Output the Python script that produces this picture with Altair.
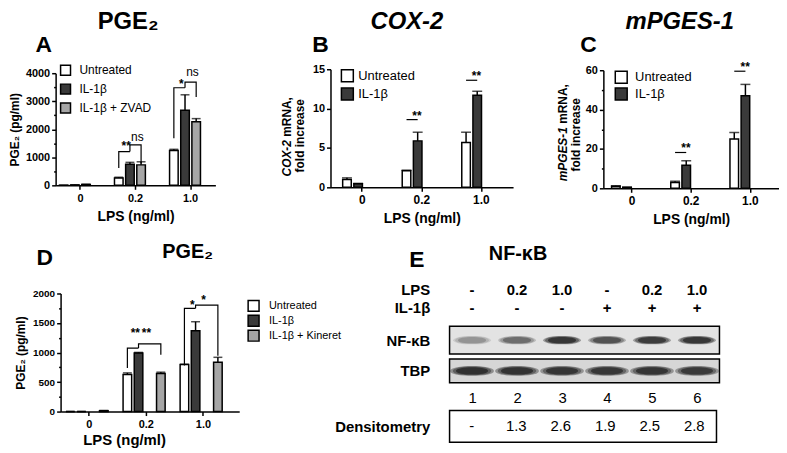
import altair as alt
import pandas as pd

FONT = "Liberation Sans"
DARK = "#3a3a3a"
LIGHT = "#a6a6a6"
WHITE = "#ffffff"

lps = ["0", "0.2", "1.0"]

# ---------------- Panel A : PGE2 with ZVAD ----------------
a_groups = ["Untreated", "IL-1β", "IL-1β + ZVAD"]
a_untreated = [5, 260, 1240]
a_untreated_sem = [0, 30, 45]
a_il1b = [15, 750, 2680]
a_il1b_sem = [5, 70, 550]
a_zvad = [30, 730, 2270]
a_zvad_sem = [5, 110, 110]
a_br_lps = ["0.2", "0.2", "1.0", "1.0"]
a_br_from = ["Untreated", "IL-1β", "Untreated", "IL-1β"]
a_br_to = ["IL-1β", "IL-1β + ZVAD", "IL-1β", "IL-1β + ZVAD"]
a_br_start = [614, 1204, 1676, 3481]
a_br_top = [1204, 1440, 3481, 3681]
a_br_end = [1204, 790, 3481, 3150]
a_br_label = ["**", "ns", "*", "ns"]
a_br_label_y = [1260, 1593, 3490, 3894]

# ---------------- Panel B : COX-2 mRNA ----------------
b_groups = ["Untreated", "IL-1β"]
b_untreated = [1.0, 2.1, 5.7]
b_untreated_sem = [0.2, 0.08, 1.3]
b_il1b = [0.45, 5.9, 11.7]
b_il1b_sem = [0.05, 1.1, 0.5]
b_br_lps = ["0.2", "1.0"]
b_br_from = ["Untreated", "Untreated"]
b_br_to = ["IL-1β", "IL-1β"]
b_br_y = [8.6, 13.6]
b_br_label = ["**", "**"]

# ---------------- Panel C : mPGES-1 mRNA ----------------
c_groups = ["Untreated", "IL-1β"]
c_untreated = [1.0, 3.0, 25.0]
c_untreated_sem = [0.3, 0.6, 3.3]
c_il1b = [0.5, 11.7, 47.0]
c_il1b_sem = [0.1, 2.3, 5.8]
c_br_lps = ["0.2", "1.0"]
c_br_from = ["Untreated", "Untreated"]
c_br_to = ["IL-1β", "IL-1β"]
c_br_y = [18.2, 59.5]
c_br_label = ["**", "**"]

# ---------------- Panel D : PGE2 with Kineret ----------------
d_groups = ["Untreated", "IL-1β", "IL-1β + Kineret"]
d_untreated = [0, 627, 796]
d_untreated_sem = [0, 28, 5]
d_il1b = [0, 992, 1367]
d_il1b_sem = [0, 10, 155]
d_kineret = [15, 645, 835]
d_kineret_sem = [3, 22, 84]
d_br_lps = ["0.2", "0.2", "1.0", "1.0"]
d_br_from = ["Untreated", "IL-1β", "Untreated", "IL-1β"]
d_br_to = ["IL-1β", "IL-1β + Kineret", "IL-1β", "IL-1β + Kineret"]
d_br_start = [740, 1076, 779, 1748]
d_br_top = [1076, 1148, 1748, 1804]
d_br_end = [1076, 964, 1748, 947]
d_br_label = ["**", "**", "*", "*"]
d_br_label_y = [1260, 1260, 1731, 1815]

# ---------------- Panel E : NF-kB western blot ----------------
lanes = ["1", "2", "3", "4", "5", "6"]
e_lps = ["-", "0.2", "1.0", "-", "0.2", "1.0"]
e_il1b = ["-", "-", "-", "+", "+", "+"]
nfkb_intensity = [0.3, 0.5, 0.92, 0.66, 0.85, 0.9]
tbp_intensity = [0.97, 0.93, 0.9, 0.88, 0.9, 0.86]
densitometry = ["-", "1.3", "2.6", "1.9", "2.5", "2.8"]


def bars_df(groups, means, sems):
    rows = []
    for g, m, s in zip(groups, means, sems):
        for l, v, e in zip(lps, m, s):
            rows.append({"lps": l, "group": g, "value": v, "top": v + e})
    return pd.DataFrame(rows)


def bracket_df(b_lps, b_from, b_to, b_start, b_top, b_end):
    rows = []
    for i, (l, f, t, s, tp, e) in enumerate(zip(b_lps, b_from, b_to, b_start, b_top, b_end)):
        rows += [
            {"id": i, "k": 0, "lps": l, "group": f, "y": s},
            {"id": i, "k": 1, "lps": l, "group": f, "y": tp},
            {"id": i, "k": 2, "lps": l, "group": t, "y": tp},
            {"id": i, "k": 3, "lps": l, "group": t, "y": e},
        ]
    return pd.DataFrame(rows)


def one(text):
    return pd.DataFrame({"t": [text]})


def label_mark(text, x, y, size, style="normal", align="center", angle=0, baseline="middle"):
    kw = dict(fontSize=size, fontWeight="bold", fontStyle=style, baseline=baseline, align=align, color="black")
    if angle:
        kw["angle"] = angle
    return alt.Chart(one(text)).mark_text(**kw).encode(text="t:N", x=alt.value(x), y=alt.value(y))


def bar_panel(p):
    groups = p["groups"]
    bars = bars_df(groups, p["means"], p["sems"])
    br = bracket_df(*p["brackets"])
    lab = pd.DataFrame({"lps": p["lab_lps"], "group": p["lab_from"], "y": p["lab_y"], "t": p["lab_text"]})
    lab_star = lab[lab["t"] != "ns"]
    lab_ns = lab[lab["t"] == "ns"]

    xkw = dict(domain=lps, paddingInner=p["pi"], paddingOuter=p["po"], align=p.get("align", 0.5))
    if "xrange" in p:
        xkw["range"] = p["xrange"]
    xs = alt.Scale(**xkw)
    os_ = alt.Scale(domain=groups, paddingInner=p["opi"], paddingOuter=p["opo"])
    ys = alt.Scale(domain=[0, p["ymax"]], nice=False, zero=True, range=p["yrange"])

    x_axis = alt.Axis(title="LPS (ng/ml)", labelAngle=0, labelFontSize=p["xlab"], titleFontSize=p["xtitle"],
                      titlePadding=p["xtp"], labelPadding=3, tickSize=4, **p.get("xextra", {}))
    y_axis = alt.Axis(title=p["ytitle"], values=p["yvals"], format="d", labelExpr=p["lexpr"],
                      tickSize=p["tsize"], labelFontSize=p["ylab"], titleFontSize=12, titlePadding=p["ytp"],
                      titleLineHeight=13, labelPadding=2, **p.get("yextra", {}))

    def X():
        return alt.X("lps:N", scale=xs, axis=x_axis)

    def Y(field):
        return alt.Y(field, scale=ys, axis=y_axis)

    off = alt.XOffset("group:N", scale=os_)

    bar = alt.Chart(bars).mark_bar(stroke="black", strokeWidth=1.5).encode(
        x=X(), xOffset=off, y=Y("value:Q"),
        fill=alt.Fill("group:N", scale=alt.Scale(domain=groups, range=p["colors"]),
                      legend=alt.Legend(orient="none", legendX=p["lx"], legendY=p["ly"], title=None,
                                        symbolType="square", symbolSize=p["ss"], symbolStrokeColor="black",
                                        symbolStrokeWidth=1.5, symbolOpacity=1, labelFontSize=p["lfs"],
                                        labelFont=FONT, labelColor="black", rowPadding=p["rp"],
                                        labelOffset=p["lo"])),
    )
    err = alt.Chart(bars).mark_rule(color="black", strokeWidth=1.5).encode(
        x=X(), xOffset=off, y=Y("value:Q"), y2="top:Q")
    cap = alt.Chart(bars).mark_tick(color="black", thickness=1.5, size=p["cap"]).encode(
        x=X(), xOffset=off, y=Y("top:Q"))
    brk = alt.Chart(br).mark_line(color="black", strokeWidth=1.2).encode(
        x=X(), xOffset=off, y=Y("y:Q"), detail="id:N", order="k:Q")
    stars = alt.Chart(lab_star).mark_text(fontSize=12, fontWeight="bold", baseline="alphabetic",
                                          dx=p["half"], color="black").encode(
        x=X(), xOffset=off, y=Y("y:Q"), text="t:N")
    layers = [bar, err, cap, brk, stars]
    if len(lab_ns):
        ns = alt.Chart(lab_ns).mark_text(fontSize=12, fontWeight="normal", baseline="alphabetic",
                                         dx=p["half"], color="black").encode(
            x=X(), xOffset=off, y=Y("y:Q"), text="t:N")
        layers.append(ns)
    layers.append(label_mark(p["head"], p["hx"], p["hy"], p["hfs"], style=p["hstyle"]))
    layers.append(label_mark(p["letter"], p["lx_"], p["ly_"], 23))
    # y-axis title with the italic gene name (two rotated lines)
    if "gene" in p:
        gx1, gx2, gbottom, gwidth, gcenter2 = p["gene_pos"]
        layers.append(label_mark(p["gene"], gx1, gbottom, 12, style="italic", align="left",
                                 angle=270, baseline="alphabetic"))
        layers.append(label_mark("mRNA,", gx1, gbottom - gwidth, 12, align="left",
                                 angle=270, baseline="alphabetic"))
        layers.append(label_mark("fold increase", gx2, gcenter2, 12, align="center",
                                 angle=270, baseline="alphabetic"))
    return alt.layer(*layers).properties(width=p["w"], height=p["h"])


A = bar_panel(dict(
    groups=a_groups, means=[a_untreated, a_il1b, a_zvad], sems=[a_untreated_sem, a_il1b_sem, a_zvad_sem],
    colors=[WHITE, DARK, LIGHT],
    brackets=(a_br_lps, a_br_from, a_br_to, a_br_start, a_br_top, a_br_end),
    lab_lps=a_br_lps, lab_from=a_br_from, lab_y=a_br_label_y, lab_text=a_br_label,
    pi=0.19, po=0.045, opi=0.23, opo=0.115, ymax=4000, yrange=[117, 4],
    yvals=list(range(0, 4001, 500)), lexpr="datum.value % 1000 === 0 ? datum.label : ''",
    tsize={"condition": {"test": "datum.value % 1000 === 0", "value": 4}, "value": 2},
    ytitle="PGE₂ (pg/ml)", ylab=11, ytp=4, xlab=11, xtitle=14, xtp=6,
    lx=4, ly=-5, ss=100, lfs=12, rp=3, lo=8, cap=9, half=7.5,
    head="PGE₂", hfs=24, hstyle="normal", hx=73, hy=-47.5, letter="A", lx_=-12, ly_=-24,
    w=161, h=117))

B = bar_panel(dict(
    groups=b_groups, means=[b_untreated, b_il1b], sems=[b_untreated_sem, b_il1b_sem],
    colors=[WHITE, DARK],
    brackets=(b_br_lps, b_br_from, b_br_to, b_br_y, b_br_y, b_br_y),
    lab_lps=b_br_lps, lab_from=b_br_from, lab_y=b_br_y, lab_text=b_br_label,
    pi=0.3, po=0.183, opi=0.238, opo=0.119, ymax=15, yrange=[119, 0],
    yvals=[0, 5, 10, 15], lexpr="datum.label", tsize=4,
    ytitle=None, ylab=11, ytp=5, xlab=12, xtitle=14, xtp=6,
    gene="COX-2", gene_pos=(-40, -27, 108, 40, 67),
    lx=10, ly=-0.5, ss=144, lfs=13, rp=0.5, lo=4, cap=10, half=10.5,
    head="COX-2", hfs=24, hstyle="italic", hx=77, hy=-47.5, letter="B", lx_=-10, ly_=-24,
    w=184, h=119))

C = bar_panel(dict(
    groups=c_groups, means=[c_untreated, c_il1b], sems=[c_untreated_sem, c_il1b_sem],
    colors=[WHITE, DARK],
    brackets=(c_br_lps, c_br_from, c_br_to, c_br_y, c_br_y, c_br_y),
    lab_lps=c_br_lps, lab_from=c_br_from, lab_y=c_br_y, lab_text=c_br_label,
    pi=0.267, po=0.117, opi=0.318, opo=0.159, ymax=60, yrange=[120, 1],
    yvals=list(range(0, 61, 10)), lexpr="datum.value % 20 === 0 ? datum.label : ''",
    tsize={"condition": {"test": "datum.value % 20 === 0", "value": 4}, "value": 2},
    ytitle=None, ylab=11, ytp=5, xlab=12, xtitle=14, xtp=6,
    gene="mPGES-1", gene_pos=(-37, -24, 113, 58, 66),
    lx=11, ly=1, ss=144, lfs=13, rp=-1, lo=7, cap=10, half=11,
    head="mPGES-1", hfs=24, hstyle="italic", hx=77, hy=-47.5, letter="C", lx_=-15, ly_=-24,
    w=177, h=120))

D = bar_panel(dict(
    groups=d_groups, means=[d_untreated, d_il1b, d_kineret], sems=[d_untreated_sem, d_il1b_sem, d_kineret_sem],
    colors=[WHITE, DARK, LIGHT],
    brackets=(d_br_lps, d_br_from, d_br_to, d_br_start, d_br_top, d_br_end),
    lab_lps=d_br_lps, lab_from=d_br_from, lab_y=d_br_label_y, lab_text=d_br_label,
    pi=0.139, po=0.135, opi=0.27, opo=0.135, align=0.27, xrange=[5, 185],
    ymax=2000, yrange=[131, 12],
    yvals=list(range(0, 2001, 250)), lexpr="datum.value % 500 === 0 ? datum.label : ''",
    tsize={"condition": {"test": "datum.value % 500 === 0", "value": 4}, "value": 2},
    ytitle="PGE₂ (pg/ml)", ylab=10, ytp=5, xlab=11, xtitle=15, xtp=3,
    xextra={"titleX": 69}, yextra={"offset": -5},
    lx=193, ly=18, ss=121, lfs=11, rp=-2.5, lo=9, cap=9, half=8,
    head="PGE₂", hfs=20, hstyle="normal", hx=133, hy=-30, letter="D", lx_=-11, ly_=-24,
    w=185, h=131))

# ---------------- Panel E ----------------
EW = 272
lane_scale = alt.Scale(domain=lanes, paddingInner=0, paddingOuter=0.1)
ELLIPSE = "M -1 0 C -1 -0.3 1 -0.3 1 0 C 1 0.3 -1 0.3 -1 0 Z"


def row_axis(pad=20):
    return alt.Axis(title=None, ticks=False, domain=False, labelFontSize=15, labelFontWeight="bold",
                    labelPadding=pad, labelColor="black")


hdr_rows = ["LPS", "IL-1β"]
hdr_df = pd.DataFrame(
    [{"lane": ln, "row": "LPS", "t": v} for ln, v in zip(lanes, e_lps)]
    + [{"lane": ln, "row": "IL-1β", "t": v} for ln, v in zip(lanes, e_il1b)]
)
hdr_text = alt.Chart(hdr_df).mark_text(fontSize=15, fontWeight="bold", color="black").encode(
    x=alt.X("lane:N", scale=lane_scale, axis=None),
    y=alt.Y("row:N", scale=alt.Scale(type="band", domain=hdr_rows, paddingInner=0, paddingOuter=0.139,
                                     align=0), axis=row_axis()),
    text="t:N")
E_hdr = alt.layer(hdr_text, label_mark("NF-κB", 69, -28, 20), label_mark("E", -33, -22, 23)
                  ).properties(width=EW, height=41)


def blot(name, intensity, bg, height, size, halo_k, with_lanes=False):
    df = pd.DataFrame({"lane": lanes, "row": [name] * 6, "intensity": intensity})
    if with_lanes:
        xax = alt.Axis(title=None, ticks=False, domain=False, labelFontSize=15, labelFontWeight="normal",
                       labelPadding=8, labelAngle=0, labelColor="black")
    else:
        xax = None

    def X():
        return alt.X("lane:N", scale=lane_scale, axis=xax)

    def Y():
        return alt.Y("row:N", scale=alt.Scale(domain=[name]), axis=row_axis())

    op = alt.Opacity("intensity:Q", scale=alt.Scale(domain=[0, 1], range=[0, 0.35]), legend=None)
    halo = alt.Chart(df).mark_point(shape=ELLIPSE, filled=True, color="black", size=size * halo_k).encode(
        x=X(), y=Y(), opacity=op)
    core = alt.Chart(df).mark_point(shape=ELLIPSE, filled=True, color="black", size=size).encode(
        x=X(), y=Y(), opacity=op)
    core2 = alt.Chart(df).mark_point(shape=ELLIPSE, filled=True, color="#1a1a1a", size=size * 0.7).encode(
        x=X(), y=Y(), fillOpacity=alt.FillOpacity("intensity:Q", scale=None, legend=None))
    return alt.layer(halo, core, core2, view=alt.ViewBackground(fill=bg, stroke="black", strokeWidth=1.5)
                     ).properties(width=EW, height=height)


E_nfkb = blot("NF-κB", nfkb_intensity, "#e3e3e3", 28, 1150, 1.25)
E_tbp = blot("TBP", tbp_intensity, "#d6d6d6", 24, 1500, 1.3, with_lanes=True)

dens_df = pd.DataFrame({"lane": lanes, "row": ["Densitometry"] * 6, "t": densitometry})
E_dens = alt.Chart(dens_df).mark_text(fontSize=15, color="black").encode(
    x=alt.X("lane:N", scale=lane_scale, axis=None),
    y=alt.Y("row:N", scale=alt.Scale(domain=["Densitometry"]), axis=row_axis()),
    text="t:N",
).properties(width=EW - 3, height=32, view=alt.ViewBackground(fill="white", stroke="black", strokeWidth=1.5))

E = alt.vconcat(E_hdr, E_nfkb, E_tbp, E_dens, spacing=3).resolve_scale(opacity="shared")

BC = alt.hconcat(B, C, spacing=44).resolve_scale(fill="independent")
row1 = alt.hconcat(A, BC, spacing=66).resolve_scale(fill="independent")
row2 = alt.hconcat(D, E, spacing=-8).resolve_scale(fill="independent")

chart = alt.vconcat(row1, row2, spacing=16).resolve_scale(
    fill="independent"
).properties(
    padding={"left": 0, "top": 0, "right": 0, "bottom": 0}
).configure(font=FONT).configure_view(strokeWidth=0).configure_axis(
    domainColor="black", domainWidth=1.5, tickColor="black", tickWidth=1.5,
    labelColor="black", labelFont=FONT, labelFontWeight="bold",
    titleColor="black", titleFont=FONT, titleFontWeight="bold", grid=False
)

chart.save("out.html", embed_options={"renderer": "svg", "actions": False})
